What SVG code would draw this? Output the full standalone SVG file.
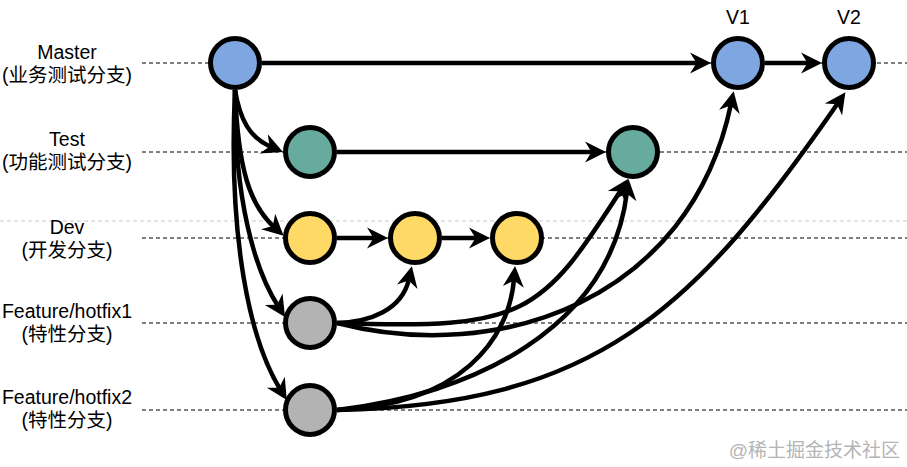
<svg xmlns="http://www.w3.org/2000/svg" width="907" height="467" viewBox="0 0 907 467">
<defs>
<style>
.lbl{font-family:"Liberation Sans","Noto Sans CJK SC",sans-serif;font-size:19.5px;fill:#000;text-anchor:middle}
.lane{stroke:#000;stroke-width:1;stroke-dasharray:4 3;fill:none}
.sep{stroke:#c8c8c8;stroke-width:1;stroke-dasharray:4 3;fill:none}
.node{stroke:#000;stroke-width:5}
.blue{fill:#7EA6E0}.green{fill:#67AB9F}.yellow{fill:#FFD966}.gray{fill:#B3B3B3}
.edge{fill:none;stroke:#000;stroke-width:4.5;marker-end:url(#arrow)}
.wm{font-family:"Liberation Sans","Noto Sans CJK SC",sans-serif;font-size:19px;fill:#b4b4b4;text-anchor:end}
</style>
<marker id="arrow" viewBox="-22 -11 23 22" refX="-13" refY="0" markerWidth="23" markerHeight="22" markerUnits="userSpaceOnUse" orient="auto">
<path d="M0,0 L-21,-10.5 L-14.5,0 L-21,10.5 Z" fill="#000"/>
</marker>
</defs>
<rect width="907" height="467" fill="#fff"/>
<g id="lanes">
<line class="sep" x1="0" y1="221" x2="907" y2="221"/>
<line class="lane" x1="142" y1="63" x2="907" y2="63"/>
<line class="lane" x1="142" y1="152" x2="907" y2="152"/>
<line class="lane" x1="142" y1="238" x2="907" y2="238"/>
<line class="lane" x1="142" y1="323" x2="907" y2="323"/>
<line class="lane" x1="142" y1="410" x2="907" y2="410"/>
</g>
<g id="label-master"><text class="lbl" x="67" y="59">Master</text><text class="lbl" x="67" y="82">(业务测试分支)</text></g>
<g id="label-test"><text class="lbl" x="67" y="146">Test</text><text class="lbl" x="67" y="169">(功能测试分支)</text></g>
<g id="label-dev"><text class="lbl" x="67" y="234">Dev</text><text class="lbl" x="67" y="257">(开发分支)</text></g>
<g id="label-f1"><text class="lbl" x="67" y="318">Feature/hotfix1</text><text class="lbl" x="67" y="341">(特性分支)</text></g>
<g id="label-f2"><text class="lbl" x="67" y="404">Feature/hotfix2</text><text class="lbl" x="67" y="427">(特性分支)</text></g>
<g id="label-v1"><text class="lbl" x="738" y="24">V1</text></g>
<g id="label-v2"><text class="lbl" x="849" y="24">V2</text></g>
<g id="node-master"><circle class="node blue" cx="235" cy="63" r="24.5"/></g>
<g id="node-v1"><circle class="node blue" cx="738" cy="63" r="24.5"/></g>
<g id="node-v2"><circle class="node blue" cx="849" cy="63" r="24.5"/></g>
<g id="node-test1"><circle class="node green" cx="310" cy="152" r="24.5"/></g>
<g id="node-test2"><circle class="node green" cx="633" cy="152" r="24.5"/></g>
<g id="node-dev1"><circle class="node yellow" cx="310" cy="238" r="24.5"/></g>
<g id="node-dev2"><circle class="node yellow" cx="415" cy="238" r="24.5"/></g>
<g id="node-dev3"><circle class="node yellow" cx="517" cy="238" r="24.5"/></g>
<g id="node-f1"><circle class="node gray" cx="310" cy="323" r="24.5"/></g>
<g id="node-f2"><circle class="node gray" cx="310" cy="410" r="24.5"/></g>
<g id="connectors">
<path class="edge" d="M262,63 L698,63"/>
<path class="edge" d="M765,63 L809,63"/>
<path class="edge" d="M337,152 L593,152"/>
<path class="edge" d="M337,238 L375,238"/>
<path class="edge" d="M442,238 L477,238"/>
<path class="edge" d="M235,90 C240,120 250,138 271,147"/>
<path class="edge" d="M235,90 C238,170 250,205 274,227"/>
<path class="edge" d="M235,90 C234,200 255,270 278,306"/>
<path class="edge" d="M235,90 C228,240 250,340 280,389"/>
<path class="edge" d="M337,323 C370,322 402,310 409,279"/>
<path class="edge" d="M337,323 C526,330 541,315 621,190"/>
<path class="edge" d="M337,323 C500,365 690,300 731,104"/>
<path class="edge" d="M337,410 C461,405 509,339 514,279"/>
<path class="edge" d="M337,410 C470,395 610,330 627,192"/>
<path class="edge" d="M337,410 C595,405 693,312 838,103"/>
</g>
<text class="wm" x="900" y="457">@稀土掘金技术社区</text>
</svg>
